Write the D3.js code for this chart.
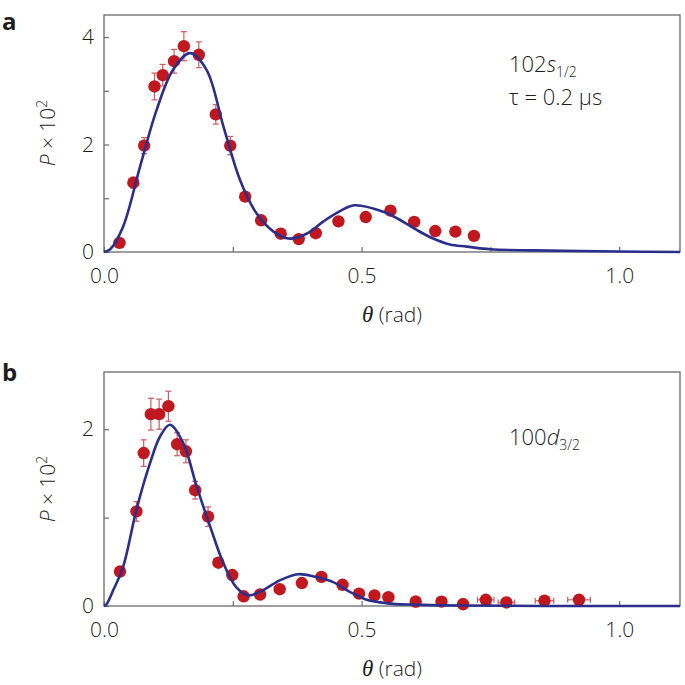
<!DOCTYPE html>
<html>
<head>
<meta charset="utf-8">
<script src="https://cdn.jsdelivr.net/npm/d3@7"></script>
<style>
  body { margin: 0; background: #fff; }
  svg { display: block; }
  text { font-family: "Open Sans", "Noto Sans", sans-serif; fill: #1e1e1e; }
</style>
</head>
<body>
<svg id="chart" width="685" height="685"></svg>
<script>
// ---------- Data ----------
// Panel a (102s1/2, tau = 0.2 us)
const thetaA = [0.030,0.057,0.078,0.098,0.114,0.136,0.155,0.184,0.217,0.245,0.274,0.305,0.343,0.378,0.411,0.455,0.508,0.556,0.602,0.643,0.682,0.718];
const probA  = [0.17,1.29,1.98,3.08,3.29,3.55,3.83,3.67,2.56,1.98,1.03,0.59,0.34,0.24,0.35,0.57,0.65,0.77,0.56,0.39,0.38,0.30];
const errA   = [0.05,0.10,0.15,0.25,0.20,0.22,0.27,0.24,0.18,0.17,0.05,0.05,0.04,0.04,0.04,0.04,0.04,0.04,0.04,0.04,0.04,0.04];
const fitThetaA = [0,0.012,0.037,0.07,0.102,0.134,0.167,0.199,0.232,0.264,0.296,0.329,0.358,0.393,0.426,0.458,0.486,0.542,0.574,0.607,0.639,0.671,0.704,0.75,0.833,1.0,1.118];
const fitProbA  = [0,0.05,0.47,1.59,2.64,3.39,3.70,3.39,2.33,1.34,0.72,0.38,0.25,0.34,0.57,0.76,0.87,0.75,0.60,0.41,0.25,0.14,0.10,0.05,0.03,0.01,0.0];

// Panel b (100d3/2)
const thetaB = [0.031,0.063,0.077,0.091,0.107,0.125,0.142,0.159,0.177,0.202,0.222,0.249,0.271,0.303,0.341,0.384,0.422,0.463,0.495,0.525,0.552,0.605,0.655,0.697,0.741,0.781,0.855,0.922];
const probB  = [0.39,1.07,1.73,2.17,2.17,2.26,1.83,1.75,1.31,1.01,0.49,0.35,0.11,0.13,0.19,0.26,0.33,0.24,0.14,0.12,0.10,0.05,0.05,0.02,0.07,0.04,0.06,0.07];
const yerrB  = [0.05,0.11,0.15,0.18,0.17,0.17,0.13,0.13,0.10,0.11,0.05,0.05,0.04,0.04,0.04,0.04,0.04,0.04,0.04,0.04,0.04,0.06,0.05,0.06,0.05,0.05,0.04,0.04];
const xerrB  = [0,0,0,0,0,0,0,0,0,0,0,0,0,0,0,0,0,0,0,0,0,0,0,0.008,0.016,0.016,0.018,0.022];
const fitThetaB = [0,0.005,0.018,0.037,0.063,0.089,0.109,0.128,0.154,0.18,0.206,0.232,0.257,0.28,0.309,0.341,0.377,0.41,0.445,0.477,0.51,0.55,0.6,0.7,0.85,1.118];
const fitProbB  = [0,0.02,0.18,0.44,1.09,1.61,1.92,2.05,1.84,1.35,0.90,0.48,0.21,0.12,0.18,0.29,0.36,0.33,0.27,0.16,0.07,0.03,0.015,0.005,0,0];

const xTicks = [0,0.25,0.5,0.75,1.0];
const xTickLabels = ["0.0","","0.5","","1.0"];
const yTicksA = [0,1,2,3,4];
const yTickLabelsA = ["0","","2","","4"];
const yTicksB = [0,1,2];
const yTickLabelsB = ["0","","2"];

// ---------- Drawing ----------
const svg = d3.select("#chart");
const RED = "#c1171f", BLUE = "#2b2f8c", ERR = "#d25a63", FRAME = "#6a6a6a";

function panel(cfg) {
  const x = d3.scaleLinear().domain([0, 1.118]).range([104, 680]);
  const y = d3.scaleLinear().domain([0, cfg.ymax]).range([cfg.bottom, cfg.top]);
  const g = svg.append("g");

  // axes (inward ticks)
  const xa = g.append("g").attr("transform", `translate(0,${cfg.bottom})`)
    .call(d3.axisBottom(x).tickValues(xTicks).tickSizeInner(-5).tickSizeOuter(0).tickPadding(16)
      .tickFormat((d,i) => xTickLabels[i]));
  const ya = g.append("g").attr("transform", `translate(104,0)`)
    .call(d3.axisLeft(y).tickValues(cfg.yTicks).tickSizeInner(-5).tickSizeOuter(0).tickPadding(10)
      .tickFormat((d,i) => cfg.yLabels[i]));
  [xa, ya].forEach(a => {
    a.select(".domain").remove();
    a.selectAll(".tick line").attr("stroke", FRAME).attr("stroke-width", 1.2);
    a.selectAll(".tick text").attr("font-size", 21).attr("fill", "#1e1e1e").attr("font-weight", 300)
      .attr("font-family", '"Open Sans", sans-serif');
  });

  // frame
  g.append("rect").attr("x", x(0)).attr("y", cfg.top)
    .attr("width", x(1.118) - x(0)).attr("height", cfg.bottom - cfg.top)
    .attr("fill", "none").attr("stroke", FRAME).attr("stroke-width", 1.3);

  // error bars
  const eb = g.append("g").attr("stroke", ERR).attr("stroke-width", 1.2).attr("fill", "none");
  cfg.xs.forEach((xv, i) => {
    const ye = cfg.yerr[i], xe = cfg.xerr ? cfg.xerr[i] : 0, yv = cfg.ys[i];
    if (ye > 0) {
      eb.append("line").attr("x1", x(xv)).attr("x2", x(xv)).attr("y1", y(yv - ye)).attr("y2", y(yv + ye));
      eb.append("line").attr("x1", x(xv) - 3).attr("x2", x(xv) + 3).attr("y1", y(yv + ye)).attr("y2", y(yv + ye));
      eb.append("line").attr("x1", x(xv) - 3).attr("x2", x(xv) + 3).attr("y1", y(yv - ye)).attr("y2", y(yv - ye));
    }
    if (xe > 0) {
      eb.append("line").attr("x1", x(xv - xe)).attr("x2", x(xv + xe)).attr("y1", y(yv)).attr("y2", y(yv));
      eb.append("line").attr("x1", x(xv - xe)).attr("x2", x(xv - xe)).attr("y1", y(yv) - 3).attr("y2", y(yv) + 3);
      eb.append("line").attr("x1", x(xv + xe)).attr("x2", x(xv + xe)).attr("y1", y(yv) - 3).attr("y2", y(yv) + 3);
    }
  });

  // points
  g.append("g").selectAll("circle").data(cfg.xs).join("circle")
    .attr("cx", d => x(d)).attr("cy", (d,i) => y(cfg.ys[i])).attr("r", 6.2)
    .attr("fill", RED);

  // fit curve
  const line = d3.line().x(d => x(d[0])).y(d => y(d[1])).curve(d3.curveCatmullRom.alpha(0.5));
  g.append("path").datum(cfg.fx.map((v,i) => [v, cfg.fy[i]]))
    .attr("d", line).attr("fill", "none").attr("stroke", BLUE).attr("stroke-width", 2.6);

  // x label
  const xl = g.append("text").attr("x", 392).attr("y", cfg.bottom + 70).attr("text-anchor", "middle")
    .attr("font-size", 21).attr("font-weight", 300);
  xl.append("tspan").attr("font-style", "italic").attr("font-weight", 400).attr("font-size", 23)
    .attr("font-family", '"Liberation Serif", serif').text("θ");
  xl.append("tspan").text(" (rad)");

  // y label
  const yl = g.append("text").attr("transform", `translate(55,${cfg.ylabelY}) rotate(-90)`)
    .attr("text-anchor", "middle").attr("font-size", 21).attr("font-weight", 300);
  yl.append("tspan").attr("font-style", "italic").text("P");
  yl.append("tspan").text(" × 10");
  yl.append("tspan").attr("font-size", 14).attr("dy", -8).text("2");

  // panel letter
  g.append("text").attr("x", 2).attr("y", cfg.letterY).attr("font-size", 24).attr("font-weight", "bold")
    .attr("font-family", '"Open Sans", sans-serif').text(cfg.letter);
  return { x, y, g };
}

const pa = panel({ top: 15, bottom: 252, ymax: 4.41, yTicks: yTicksA, yLabels: yTickLabelsA,
  xs: thetaA, ys: probA, yerr: errA, fx: fitThetaA, fy: fitProbA, ylabelY: 133, letter: "a", letterY: 30 });
const pb = panel({ top: 372, bottom: 606, ymax: 2.647, yTicks: yTicksB, yLabels: yTickLabelsB,
  xs: thetaB, ys: probB, yerr: yerrB, xerr: xerrB, fx: fitThetaB, fy: fitProbB, ylabelY: 489, letter: "b", letterY: 381 });

// annotations
const t1 = pa.g.append("text").attr("x", 509).attr("y", 72).attr("font-size", 22).attr("font-weight", 300);
t1.append("tspan").text("102");
t1.append("tspan").attr("font-style", "italic").text("s");
t1.append("tspan").attr("font-size", 14).attr("dy", 5).text("1/2");
pa.g.append("text").attr("x", 509).attr("y", 105).attr("font-size", 22).attr("font-weight", 300).text("τ = 0.2 μs");

const t2 = pb.g.append("text").attr("x", 509).attr("y", 445).attr("font-size", 22).attr("font-weight", 300);
t2.append("tspan").text("100");
t2.append("tspan").attr("font-style", "italic").text("d");
t2.append("tspan").attr("font-size", 14).attr("dy", 5).text("3/2");
</script>
</body>
</html>
